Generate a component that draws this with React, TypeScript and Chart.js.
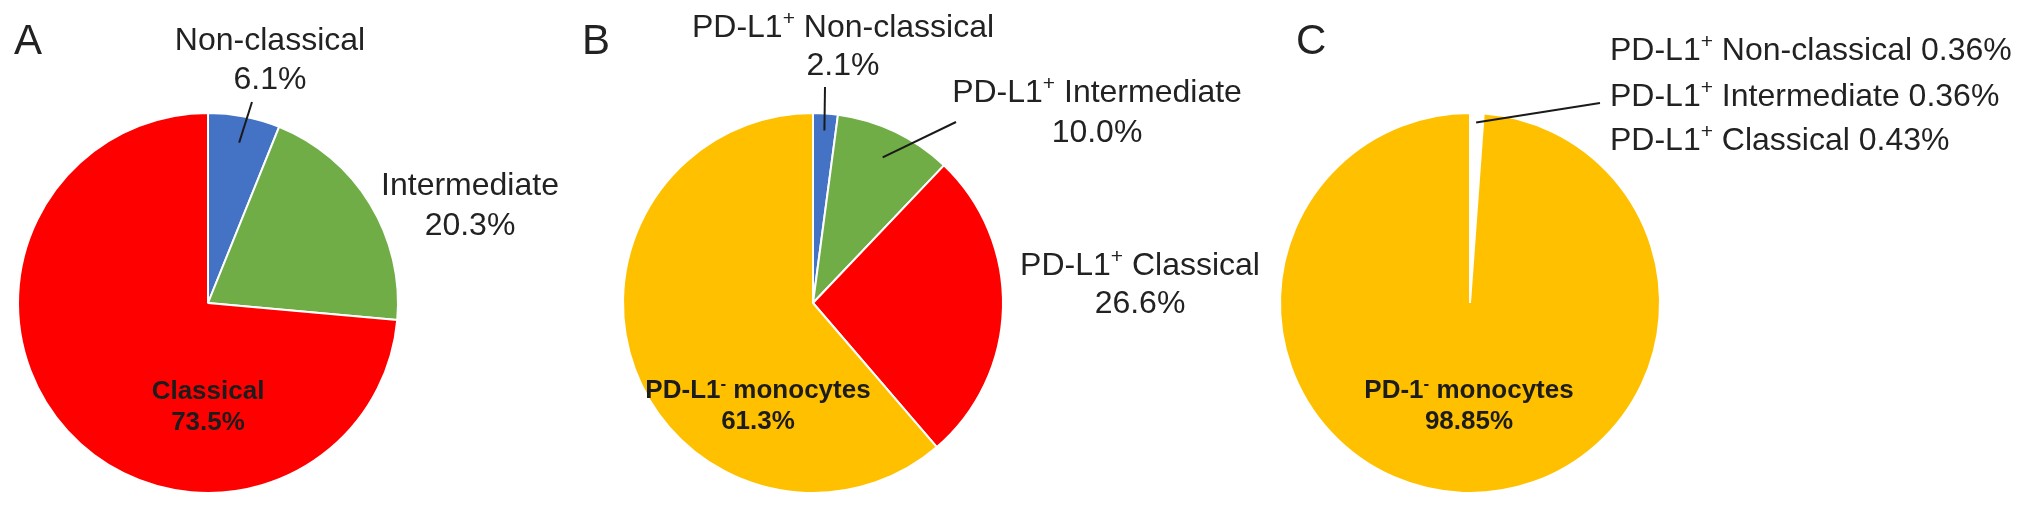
import React, { useEffect, useRef } from 'react';
import { Chart, registerables } from 'chart.js';

Chart.register(...registerables);

// ---------- data ----------
const BLUE = '#4472C4';
const GREEN = '#70AD47';
const RED = '#FF0000';
const YELLOW = '#FFC000';
const WHITE = '#FFFFFF';

// Panel A
const aCategories = ['Non-classical', 'Intermediate', 'Classical'];
const aValues = [6.1, 20.3, 73.5];
const aColors = [BLUE, GREEN, RED];

// Panel B (^x marks a superscript character)
const bCategories = ['PD-L1^+ Non-classical', 'PD-L1^+ Intermediate', 'PD-L1^+ Classical', 'PD-L1^- monocytes'];
const bValues = [2.1, 10.0, 26.6, 61.3];
const bColors = [BLUE, GREEN, RED, YELLOW];

// Panel C
const cCategories = ['PD-L1^+ Non-classical', 'PD-L1^+ Intermediate', 'PD-L1^+ Classical', 'PD-1^- monocytes'];
const cValues = [0.36, 0.36, 0.43, 98.85];
const cColors = [WHITE, WHITE, WHITE, YELLOW];

const panelLetters = ['A', 'B', 'C'];

// ---------- layout ----------
const H = 520;
const CY = 303;
const R = 190;
const FONT = '"Liberation Sans", Arial, Helvetica, sans-serif';
const REG = 32;
const BOLD = 26;
const TEXT = '#222222';

type Label = { lines: string[]; x: number; y: number; lh: number; align: 'center' | 'left'; bold?: boolean };
type Leader = { slice: number; rFrac: number; from: [number, number] };
type Panel = {
  left: number; width: number; cx: number;
  categories: string[]; values: number[]; colors: string[];
  letter: string; letterX: number;
  labels: Label[]; leaders: Leader[];
};

const pct1 = (v: number) => `${v.toFixed(1)}%`;
const pct2 = (v: number) => `${v.toFixed(2)}%`;

const panels: Panel[] = [
  {
    left: 0, width: 566, cx: 208,
    categories: aCategories, values: aValues, colors: aColors,
    letter: panelLetters[0], letterX: 14,
    labels: [
      { lines: [aCategories[0], pct1(aValues[0])], x: 270, y: 50, lh: 39, align: 'center' },
      { lines: [aCategories[1], pct1(aValues[1])], x: 470, y: 195, lh: 40, align: 'center' },
      { lines: [aCategories[2], pct1(aValues[2])], x: 208, y: 399, lh: 31, align: 'center', bold: true },
    ],
    leaders: [{ slice: 0, rFrac: 0.86, from: [252, 102] }],
  },
  {
    left: 566, width: 704, cx: 813,
    categories: bCategories, values: bValues, colors: bColors,
    letter: panelLetters[1], letterX: 582,
    labels: [
      { lines: [bCategories[0], pct1(bValues[0])], x: 843, y: 37, lh: 38, align: 'center' },
      { lines: [bCategories[1], pct1(bValues[1])], x: 1097, y: 102, lh: 40, align: 'center' },
      { lines: [bCategories[2], pct1(bValues[2])], x: 1140, y: 275, lh: 38, align: 'center' },
      { lines: [bCategories[3], pct1(bValues[3])], x: 758, y: 398, lh: 31, align: 'center', bold: true },
    ],
    leaders: [
      { slice: 0, rFrac: 0.91, from: [825, 87] },
      { slice: 1, rFrac: 0.85, from: [956, 122] },
    ],
  },
  {
    left: 1270, width: 762, cx: 1470,
    categories: cCategories, values: cValues, colors: cColors,
    letter: panelLetters[2], letterX: 1296,
    labels: [
      { lines: [`${cCategories[0]} ${pct2(cValues[0])}`], x: 1610, y: 60, lh: 0, align: 'left' },
      { lines: [`${cCategories[1]} ${pct2(cValues[1])}`], x: 1610, y: 106, lh: 0, align: 'left' },
      { lines: [`${cCategories[2]} ${pct2(cValues[2])}`], x: 1610, y: 150, lh: 0, align: 'left' },
      { lines: [cCategories[3], pct2(cValues[3])], x: 1469, y: 398, lh: 31, align: 'center', bold: true },
    ],
    leaders: [{ slice: 1, rFrac: 0.95, from: [1600, 103] }],
  },
];

// ---------- rich text ----------
type Seg = { t: string; sup: boolean };
function parseRich(s: string): Seg[] {
  const out: Seg[] = [];
  let buf = '';
  for (let i = 0; i < s.length; i++) {
    if (s[i] === '^' && i + 1 < s.length) {
      if (buf) out.push({ t: buf, sup: false });
      buf = '';
      out.push({ t: s[i + 1], sup: true });
      i++;
    } else buf += s[i];
  }
  if (buf) out.push({ t: buf, sup: false });
  return out;
}

function drawRich(ctx: CanvasRenderingContext2D, s: string, x: number, y: number, size: number, bold: boolean, align: 'center' | 'left') {
  const segs = parseRich(s);
  const w = bold ? 'bold ' : '';
  const fMain = `${w}${size}px ${FONT}`;
  const fSup = `${w}${Math.round(size * 0.66)}px ${FONT}`;
  const widths = segs.map((sg) => {
    ctx.font = sg.sup ? fSup : fMain;
    return ctx.measureText(sg.t).width;
  });
  const total = widths.reduce((a, b) => a + b, 0);
  let cx = align === 'center' ? x - total / 2 : x;
  ctx.textAlign = 'left';
  ctx.textBaseline = 'alphabetic';
  segs.forEach((sg, i) => {
    ctx.font = sg.sup ? fSup : fMain;
    ctx.fillText(sg.t, cx, sg.sup ? y - size * 0.36 : y);
    cx += widths[i];
  });
}

function labelPlugin(p: Panel) {
  return {
    id: 'panelLabels' + p.letter,
    afterDraw(chart: any) {
      const ctx: CanvasRenderingContext2D = chart.ctx;
      const meta = chart.getDatasetMeta(0);
      ctx.save();
      ctx.fillStyle = TEXT;
      // panel letter
      ctx.font = `42px ${FONT}`;
      ctx.textAlign = 'left';
      ctx.textBaseline = 'alphabetic';
      ctx.fillText(p.letter, p.letterX - p.left, 54);
      // leaders
      ctx.strokeStyle = '#1a1a1a';
      ctx.lineWidth = 2;
      p.leaders.forEach((ld) => {
        const arc = meta.data[ld.slice];
        const { x, y, startAngle, endAngle, outerRadius } = arc.getProps(['x', 'y', 'startAngle', 'endAngle', 'outerRadius'], true);
        const mid = (startAngle + endAngle) / 2;
        const ex = x + Math.cos(mid) * outerRadius * ld.rFrac;
        const ey = y + Math.sin(mid) * outerRadius * ld.rFrac;
        ctx.beginPath();
        ctx.moveTo(ld.from[0] - p.left, ld.from[1]);
        ctx.lineTo(ex, ey);
        ctx.stroke();
      });
      // labels
      p.labels.forEach((lb) => {
        lb.lines.forEach((line, i) => {
          ctx.fillStyle = lb.bold ? '#1c1c1c' : TEXT;
          drawRich(ctx, line, lb.x - p.left, lb.y + i * lb.lh, lb.bold ? BOLD : REG, !!lb.bold, lb.align);
        });
      });
      ctx.restore();
    },
  };
}

function PiePanel({ p }: { p: Panel }) {
  const ref = useRef<HTMLCanvasElement>(null);
  useEffect(() => {
    const canvas = ref.current;
    if (!canvas) return;
    const localCx = p.cx - p.left;
    const half = R + 10;
    const chart = new Chart(canvas, {
      type: 'pie',
      data: {
        labels: p.categories,
        datasets: [
          {
            data: p.values,
            backgroundColor: p.colors,
            borderColor: '#FFFFFF',
            borderWidth: 2,
            radius: R,
          } as any,
        ],
      },
      options: {
        responsive: false,
        animation: false,
        events: [],
        layout: {
          padding: {
            left: localCx - half,
            right: p.width - localCx - half,
            top: CY - half,
            bottom: H - CY - half,
          },
        },
        plugins: { legend: { display: false }, tooltip: { enabled: false } },
      },
      plugins: [labelPlugin(p)],
    });
    return () => chart.destroy();
  }, [p]);
  return (
    <canvas
      ref={ref}
      width={p.width}
      height={H}
      style={{ position: 'absolute', left: p.left, top: 0, width: p.width, height: H, display: 'block' }}
    />
  );
}

export default function App() {
  return (
    <div style={{ position: 'fixed', left: 0, top: 0, width: 2032, height: H, background: '#fff', overflow: 'hidden' }}>
      {panels.map((p) => (
        <PiePanel key={p.letter} p={p} />
      ))}
    </div>
  );
}
